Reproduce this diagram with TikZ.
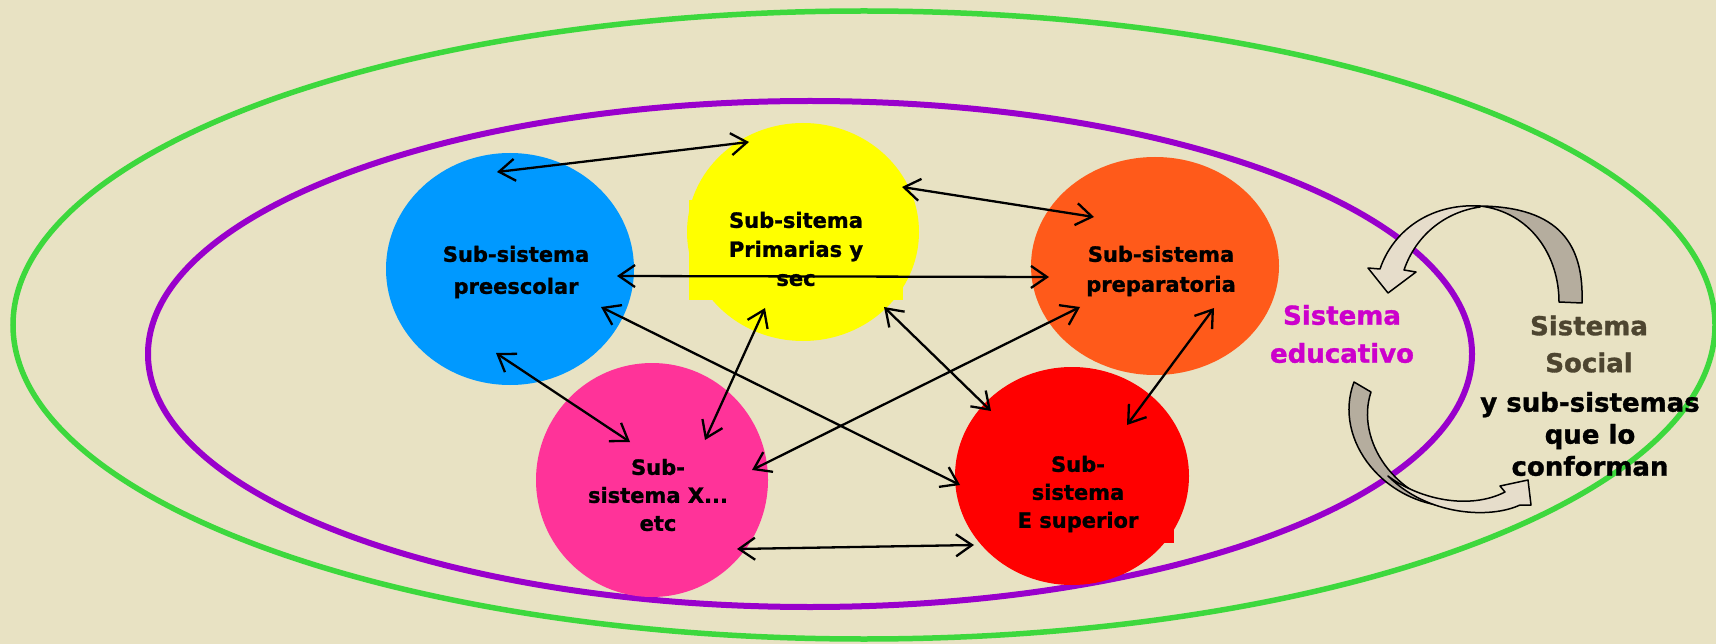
\documentclass[tikz,border=0pt]{standalone}
\usepackage{fontspec}
\setmainfont{DejaVu Sans}[BoldFeatures={FakeBold=1.2}]
\usetikzlibrary{arrows.meta,shapes.geometric}
\definecolor{bg}{HTML}{E8E2C3}
\definecolor{outergreen}{HTML}{3DD83D}
\definecolor{innerpurple}{HTML}{9900CC}
\definecolor{cblue}{HTML}{0099FF}
\definecolor{cyellow}{HTML}{FFFF00}
\definecolor{corange}{HTML}{FF5A1A}
\definecolor{cpink}{HTML}{FF3399}
\definecolor{cred}{HTML}{FF0000}
\definecolor{magtext}{HTML}{CC00CC}
\definecolor{soctext}{HTML}{4D4530}
\definecolor{arrlight}{HTML}{E6DDCB}
\definecolor{arrdark}{HTML}{B5AD9E}
\begin{document}
\begin{tikzpicture}[x=1pt,y=-1pt,
  subcirc/.style={ellipse, inner sep=0pt, draw=none},
  subtext/.style={font=\fontsize{21}{29}\selectfont\bfseries, align=center, text=black, inner sep=0pt},
  bigtext/.style={font=\fontsize{26}{38}\selectfont\bfseries, align=center, inner sep=0pt},
  link/.style={line width=2.3pt, {Straight Barb[length=16pt,width=22pt]}-{Straight Barb[length=16pt,width=22pt]}},
  curvarrow/.style={draw=black, line width=1.5pt, line join=round}
]
\fill[bg] (0,0) rectangle (1716,644);
\useasboundingbox (0,0) rectangle (1716,644);

% system ellipses
\draw[outergreen, line width=5.5pt] (864,325) ellipse [x radius=851pt, y radius=314pt];
\draw[innerpurple, line width=6pt] (810,354) ellipse [x radius=662pt, y radius=253pt];

% sub-system circles
\fill[cyellow] (689,200) rectangle (903,300);
\node[subcirc, fill=cyellow, minimum width=232pt, minimum height=218pt] (yellow) at (803,232) {};
\fill[cred] (985,445) rectangle (1174,543);
\node[subcirc, fill=cblue, minimum width=248pt, minimum height=232pt] (blue) at (510,269) {};
\node[subcirc, fill=corange, minimum width=248pt, minimum height=218pt] (orange) at (1155,266) {};
\node[subcirc, fill=cpink, minimum width=232pt, minimum height=234pt] (pink) at (652,480) {};
\node[subcirc, fill=cred, minimum width=234pt, minimum height=218pt] (red) at (1072,476) {};

% texts
\node[subtext, font=\fontsize{21}{32}\selectfont\bfseries] (tblue) at (516,272) {Sub-sistema\\preescolar};
\node[subtext] (tyellow) at (796,249) {Sub-sitema\\Primarias y\\sec};
\node[subtext, font=\fontsize{21}{30}\selectfont\bfseries] (torange) at (1161,271) {Sub-sistema\\preparatoria};
\node[subtext, font=\fontsize{21}{28}\selectfont\bfseries] (tpink) at (658,495) {Sub-\\sistema X...\\etc};
\node[subtext, font=\fontsize{21}{28}\selectfont\bfseries] (tred) at (1078,494) {Sub-\\sistema\\E superior};

\node[bigtext, text=magtext] (tedu) at (1342,334) {Sistema\\educativo};
\node[bigtext, text=soctext, font=\fontsize{26}{37}\selectfont\bfseries] (tsoc) at (1589,344) {Sistema\\Social};
\node[bigtext, text=black, font=\fontsize{26}{32}\selectfont\bfseries] (tsub) at (1590,434) {y sub-sistemas\\que lo\\conforman};

% connector end points
\coordinate (bY) at (497,172);  \coordinate (yB) at (749,142);
\coordinate (yO) at (902,187);  \coordinate (oY) at (1094,217);
\coordinate (bO) at (617,276);  \coordinate (oB) at (1049,277);
\coordinate (bR) at (601,307);  \coordinate (rB) at (960,485);
\coordinate (bP) at (496,353);  \coordinate (pB) at (630,442);
\coordinate (yP) at (765,308);  \coordinate (pY) at (705,440);
\coordinate (yR) at (884,307);  \coordinate (rY) at (991,411);
\coordinate (oP) at (1080,307); \coordinate (pO) at (752,470);
\coordinate (oR) at (1214,308); \coordinate (rO) at (1127,425);
\coordinate (pR) at (737,549);  \coordinate (rP) at (974,545);

\draw[link] (bY) -- (yB);
\draw[link] (yO) -- (oY);
\draw[link] (bO) -- (oB);
\draw[link] (bR) -- (rB);
\draw[link] (bP) -- (pB);
\draw[link] (yP) -- (pY);
\draw[link] (yR) -- (rY);
\draw[link] (oP) -- (pO);
\draw[link] (oR) -- (rO);
\draw[link] (pR) -- (rP);

% curved block arrows (top: social -> educativo)
\filldraw[curvarrow, fill=arrdark] (1559,302) -- (1582,303)
  .. controls (1584,245) and (1560,207) .. (1480,206)
  .. controls (1530,212) and (1559,255) .. (1559,302) -- cycle;
\filldraw[curvarrow, fill=arrlight] (1480,206)
  .. controls (1428,203) and (1392,233) .. (1380,269)
  -- (1368,268) -- (1388,293) -- (1416,272) -- (1404,270)
  .. controls (1416,235) and (1445,212) .. (1480,207) -- cycle;

% curved block arrow (bottom: educativo -> social)
\filldraw[curvarrow, fill=arrdark] (1354,382) -- (1371,392)
  .. controls (1355,440) and (1395,500) .. (1458,507)
  .. controls (1385,507) and (1332,440) .. (1354,382) -- cycle;
\filldraw[curvarrow, fill=arrlight] (1388,476)
  .. controls (1420,500) and (1470,510) .. (1505,492)
  -- (1500,486) -- (1528,480) -- (1531,505) -- (1520,505)
  .. controls (1490,519) and (1428,516) .. (1388,476) -- cycle;
\end{tikzpicture}
\end{document}
